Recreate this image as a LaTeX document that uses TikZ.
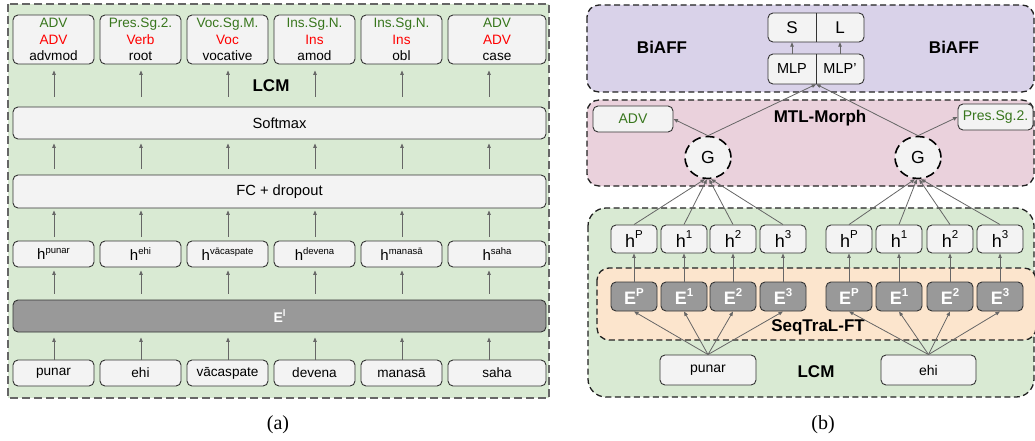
\documentclass[tikz,border=0pt]{standalone}
\usepackage{fontspec}
\setmainfont{Liberation Sans}
\newfontfamily\capfont{Liberation Serif}
\usetikzlibrary{arrows.meta,shapes.geometric}
\definecolor{lgreen}{HTML}{D9EAD3}
\definecolor{lpurple}{HTML}{D9D2E9}
\definecolor{lpink}{HTML}{EAD1DC}
\definecolor{lorange}{HTML}{FCE5CD}
\definecolor{bfill}{HTML}{F3F3F3}
\definecolor{dfill}{HTML}{999999}
\definecolor{bline}{HTML}{333333}
\definecolor{aline}{HTML}{666666}
\definecolor{pline}{HTML}{222222}
\definecolor{tgreen}{HTML}{38761D}
\definecolor{tred}{HTML}{FF0000}
\newcommand{\hsupA}[1]{h\raisebox{0.42em}{\fontsize{9.5}{10}\selectfont #1}}
\newcommand{\supB}[2]{#1\raisebox{0.48em}{\fontsize{11.5}{12}\selectfont #2}}
\begin{document}
\begin{tikzpicture}[x=1pt,y=-1pt,
  box/.style={draw=bline, fill=bfill, line width=0.9pt, rounded corners=5pt, inner sep=0pt},
  dbox/.style={box, fill=dfill, text=white},
  arr/.style={draw=aline, line width=0.8pt, -{Triangle[length=4.5pt,width=3.5pt]}},
  dashA/.style={draw=aline, line width=1.6pt, dash pattern=on 8pt off 4pt},
  dashB/.style={draw=pline, line width=1.3pt, dash pattern=on 6pt off 3.5pt},
  lbl/.style={font=\bfseries\fontsize{17}{20}\selectfont},
  ttxt/.style={font=\fontsize{13.6}{16.4}\selectfont, align=center},
  mtxt/.style={font=\fontsize{14.7}{17}\selectfont},
  htxt/.style={font=\fontsize{15}{17}\selectfont},
  btxt/.style={font=\fontsize{14}{17}\selectfont},
  bigtxt/.style={font=\fontsize{18}{20}\selectfont},
  capt/.style={font=\capfont\fontsize{20}{24}\selectfont}
]
\useasboundingbox (0,0) rectangle (1035,441);

%% ---------------- panel (a) ----------------
\draw[dashA, fill=lgreen] (8,4) rectangle (549,398);
\node[lbl] (lcmA) at (271,86) {LCM};

\begin{scope}[every node/.append style={box, ttxt, minimum height=49}]
\node[minimum width=81] (o1) at (53.5,39.5) {\textcolor{tgreen}{ADV}\\\textcolor{tred}{ADV}\\advmod};
\node[minimum width=81] (o2) at (140.5,39.5) {\textcolor{tgreen}{Pres.Sg.2.}\\\textcolor{tred}{Verb}\\root};
\node[minimum width=81] (o3) at (227.5,39.5) {\textcolor{tgreen}{Voc.Sg.M.}\\\textcolor{tred}{Voc}\\vocative};
\node[minimum width=81] (o4) at (314.5,39.5) {\textcolor{tgreen}{Ins.Sg.N.}\\\textcolor{tred}{Ins}\\amod};
\node[minimum width=81] (o5) at (401.5,39.5) {\textcolor{tgreen}{Ins.Sg.N.}\\\textcolor{tred}{Ins}\\obl};
\node[minimum width=98] (o6) at (497,39.5) {\textcolor{tgreen}{ADV}\\\textcolor{tred}{ADV}\\case};
\end{scope}

\node[box, mtxt, minimum width=533, minimum height=32] (sm) at (279.5,123) {Softmax};
\node[box, mtxt, minimum width=533, minimum height=33] (fc) at (279.5,191.5) {FC + dropout};

\begin{scope}[every node/.append style={box, htxt, minimum height=26}]
\node[minimum width=81] (hA1) at (53.5,254) {\hsupA{punar}};
\node[minimum width=81] (hA2) at (140.5,254) {\hsupA{ehi}};
\node[minimum width=81] (hA3) at (227.5,254) {\hsupA{vācaspate}};
\node[minimum width=81] (hA4) at (314.5,254) {\hsupA{devena}};
\node[minimum width=81] (hA5) at (401.5,254) {\hsupA{manasā}};
\node[minimum width=98] (hA6) at (497,254) {\hsupA{saha}};
\end{scope}

\node[dbox, minimum width=533, minimum height=32, font=\bfseries\fontsize{14}{16}\selectfont] (el) at (279.5,316) {E\raisebox{0.45em}{\fontsize{9.5}{10}\selectfont l}};

\begin{scope}[every node/.append style={box, ttxt, minimum height=26}]
\node[minimum width=81] (w1) at (53.5,373) {punar};
\node[minimum width=81] (w2) at (140.5,373) {ehi};
\node[minimum width=81] (w3) at (227.5,373) {vācaspate};
\node[minimum width=81] (w4) at (314.5,373) {devena};
\node[minimum width=81] (w5) at (401.5,373) {manasā};
\node[minimum width=98] (w6) at (497,373) {saha};
\end{scope}

\coordinate (ax1) at (54,0);
\coordinate (ax2) at (141,0);
\coordinate (ax3) at (228,0);
\coordinate (ax4) at (315,0);
\coordinate (ax5) at (402,0);
\coordinate (ax6) at (489,0);
\foreach \i in {1,...,6} {
  \draw[arr, shorten <=10pt, shorten >=6pt] (ax\i |- sm.north) -- (ax\i |- o\i.south);
  \draw[arr, shorten <=6pt, shorten >=4pt] (ax\i |- fc.north) -- (ax\i |- sm.south);
  \draw[arr, shorten <=4pt, shorten >=2pt] (ax\i |- hA\i.north) -- (ax\i |- fc.south);
  \draw[arr, shorten <=6pt, shorten >=3pt] (ax\i |- el.north) -- (ax\i |- hA\i.south);
  \draw[arr, shorten >=5pt] (ax\i |- w\i.north) -- (ax\i |- el.south);
}
\node[capt] (capA) at (278,425) {(a)};

%% ---------------- panel (b) ----------------
\draw[dashB, fill=lpurple, rounded corners=12pt] (587,5) rectangle (1034,92);
\draw[dashB, fill=lpink, rounded corners=12pt] (587,100) rectangle (1034,186);
\draw[dashB, fill=lgreen, rounded corners=18pt] (588,208) rectangle (1034,397);
\draw[dashB, fill=lorange, rounded corners=12pt] (597,268) rectangle (1036,340);

\node[lbl] (bi1) at (662,47) {BiAFF};
\node[lbl] (bi2) at (954,47) {BiAFF};
\node[lbl] (mtl) at (820,118) {MTL-Morph};
\node[lbl] (seq) at (818,327) {SeqTraL-FT};
\node[lbl] (lcmB) at (816,372) {LCM};

% S | L and MLP | MLP'
\draw[box] (768,13) rectangle (864,42);
\node[font=\fontsize{17}{20}\selectfont, minimum width=48, minimum height=29, inner sep=0pt] (S) at (792,27.5) {S};
\node[font=\fontsize{17}{20}\selectfont, minimum width=48, minimum height=29, inner sep=0pt] (L) at (840,27.5) {L};
\draw[bline, line width=0.9pt] (S.north east) -- (S.south east);
\draw[box] (768,54) rectangle (864,84);
\node[font=\fontsize{14.5}{17}\selectfont, minimum width=48, minimum height=30, inner sep=0pt] (mlp) at (792,69) {MLP};
\node[font=\fontsize{14.5}{17}\selectfont, minimum width=48, minimum height=30, inner sep=0pt] (mlpp) at (840,69) {MLP'};
\draw[bline, line width=0.9pt] (mlp.north east) -- (mlp.south east);
\draw[arr] (mlp.north) -- (S.south);
\draw[arr] (mlpp.north) -- (L.south);

% morph outputs
\node[box, btxt, text=tgreen, minimum width=80, minimum height=26] (advB) at (633,119) {ADV};
\node[box, btxt, text=tgreen, minimum width=75, minimum height=26] (presB) at (995.5,117) {Pres.Sg.2.};

% gates
\node[ellipse, draw=black, fill=bfill, line width=1.6pt, dash pattern=on 9pt off 5pt,
      minimum width=46, minimum height=42, inner sep=0pt, font=\fontsize{17.5}{20}\selectfont] (G1) at (708,157.5) {G};
\node[ellipse, draw=black, fill=bfill, line width=1.6pt, dash pattern=on 9pt off 5pt,
      minimum width=46, minimum height=42, inner sep=0pt, font=\fontsize{17.5}{20}\selectfont] (G2) at (918,157.5) {G};

\draw[arr] (G1.north) -- (advB.east);
\draw[arr] (G1.north) -- (mlp.south east);
\draw[arr] (G2.north) -- (mlp.south east);
\draw[arr] (G2.north) -- (presB.west);

% h and E rows
\begin{scope}[every node/.append style={box, bigtxt, minimum width=46, minimum height=28}]
\node (ha1) at (634,239) {\supB{h}{P}};
\node (ha2) at (684,239) {\supB{h}{1}};
\node (ha3) at (733,239) {\supB{h}{2}};
\node (ha4) at (783,239) {\supB{h}{3}};
\node (hb1) at (849,239) {\supB{h}{P}};
\node (hb2) at (899,239) {\supB{h}{1}};
\node (hb3) at (950,239) {\supB{h}{2}};
\node (hb4) at (1000,239) {\supB{h}{3}};
\end{scope}
\begin{scope}[every node/.append style={dbox, bigtxt, font=\bfseries\fontsize{18}{20}\selectfont, minimum width=46, minimum height=29}]
\node (Ea1) at (634,296.5) {\supB{E}{P}};
\node (Ea2) at (684,296.5) {\supB{E}{1}};
\node (Ea3) at (733,296.5) {\supB{E}{2}};
\node (Ea4) at (783,296.5) {\supB{E}{3}};
\node (Eb1) at (849,296.5) {\supB{E}{P}};
\node (Eb2) at (899,296.5) {\supB{E}{1}};
\node (Eb3) at (950,296.5) {\supB{E}{2}};
\node (Eb4) at (1000,296.5) {\supB{E}{3}};
\end{scope}

\node[box, btxt, minimum width=96, minimum height=30] (punB) at (708,370) {punar};
\node[box, btxt, minimum width=95, minimum height=30] (ehiB) at (928.5,370) {ehi};

\foreach \i/\a in {1/262,2/267,3/273,4/278} {
  \draw[arr] (Ea\i.north) -- (ha\i.south);
  \draw[arr] (Eb\i.north) -- (hb\i.south);
  \draw[arr] (punB.north) -- (Ea\i.south);
  \draw[arr] (ehiB.north) -- (Eb\i.south);
  \draw[arr] (ha\i.north) -- (G1.\a);
  \draw[arr] (hb\i.north) -- (G2.\a);
}

\node[capt] (capB) at (823,425) {(b)};
\end{tikzpicture}
\end{document}
